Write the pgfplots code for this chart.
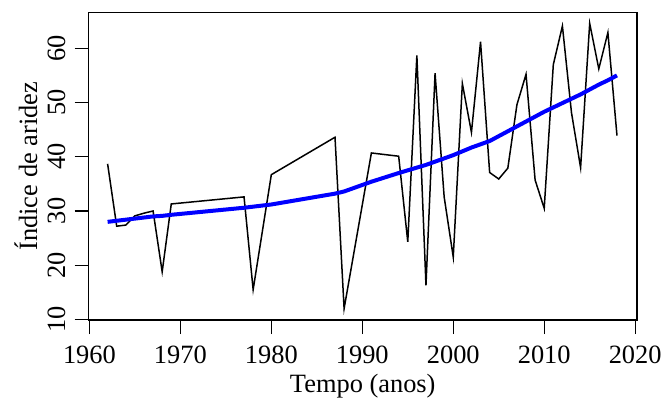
\documentclass[border=0pt]{standalone}
\usepackage{pgfplots}
\pgfplotsset{compat=1.18}
\usepackage{fontspec}
\setmainfont{Liberation Serif}
\begin{document}
\fontsize{13.2}{15}\selectfont
\begin{tikzpicture}
\useasboundingbox (-44.25pt,-38.5pt) rectangle (286.75pt,160pt);
\begin{axis}[
  at={(0pt,0pt)}, anchor=south west,
  scale only axis,
  width=274.25pt, height=153.75pt,
  xmin=1959.9, xmax=2020.2,
  ymin=9.9, ymax=66.6,
  xtick={1960,1970,...,2020},
  ytick={10,20,...,60},
  xtick pos=lower, ytick pos=left,
  tick align=outside,
  major tick length=7pt,
  every tick/.style={black, line width=0.6pt},
  axis line style={line width=0.6pt},
  /pgf/number format/assume math mode=true,
  /pgf/number format/1000 sep={},
  ticklabel style={font=\fontsize{13.2}{15}\selectfont},
  xticklabel style={yshift=-1.5pt},
  yticklabel style={rotate=90, anchor=south},
  xlabel={Tempo (anos)},
  ylabel={Índice de aridez},
  label style={font=\fontsize{13.2}{15}\selectfont},
  xlabel style={yshift=4pt},
  ylabel style={yshift=-4pt},
  clip=false,
]
\addplot[black, line width=0.75pt] coordinates {
(1962,38.7) (1963,27.2) (1964,27.4) (1965,29.1) (1966,29.6) (1967,30.0)
(1968,18.8) (1969,31.3) (1977,32.6) (1978,15.5) (1980,36.7) (1987,43.6)
(1988,12.0) (1991,40.7) (1994,40.1) (1995,24.3) (1996,58.7) (1997,16.3)
(1998,55.4) (1999,32.6) (2000,21.5) (2001,53.5) (2002,44.5) (2003,61.2)
(2004,37.1) (2005,35.9) (2006,37.9) (2007,49.6) (2008,55.2) (2009,35.7)
(2010,30.5) (2011,57.0) (2012,64.1) (2013,48.1) (2014,38.0) (2015,64.6)
(2016,56.2) (2017,62.9) (2018,43.9)
};
\addplot[color={rgb,255:red,0;green,0;blue,255}, line width=2pt] coordinates {
(1962,28.0) (1963,28.2) (1964,28.4) (1965,28.6) (1966,28.8) (1967,29.0)
(1968,29.1) (1969,29.3) (1977,30.6) (1978,30.8) (1980,31.2) (1987,33.2)
(1988,33.6) (1991,35.4) (1994,37.0) (1995,37.5) (1996,38.0) (1997,38.5)
(1998,39.1) (1999,39.7) (2000,40.3) (2001,41.0) (2002,41.7) (2003,42.3)
(2004,42.9) (2005,43.8) (2006,44.7) (2007,45.6) (2008,46.5) (2009,47.4)
(2010,48.3) (2011,49.1) (2012,49.9) (2013,50.7) (2014,51.5) (2015,52.4)
(2016,53.3) (2017,54.1) (2018,55.0)
};
\end{axis}
\end{tikzpicture}
\end{document}
